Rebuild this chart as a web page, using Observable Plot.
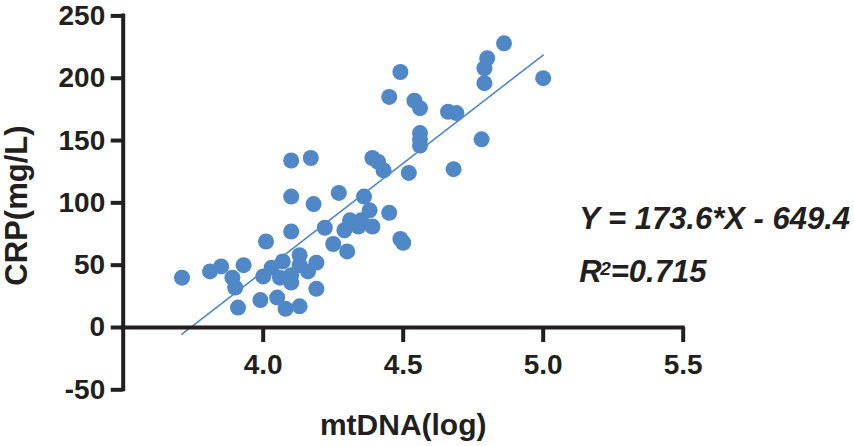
<!DOCTYPE html>
<html>
<head>
<meta charset="utf-8">
<script src="https://cdn.jsdelivr.net/npm/d3@7"></script>
<script src="https://cdn.jsdelivr.net/npm/@observablehq/plot@0.6"></script>
<style>
  html, body { margin: 0; padding: 0; background: #fff; }
  #chart svg { display: block; }
</style>
</head>
<body>
<div id="chart"></div>
<script>
// mtDNA (log) values
const mtDNA = [
  3.71, 3.81, 3.85, 3.93, 3.89, 3.90, 3.91, 3.99, 4.05, 4.08,
  4.13, 4.19, 4.00, 4.03, 4.07, 4.06, 4.10, 4.13, 4.13, 4.19,
  4.16, 4.10, 4.01, 4.10, 4.10, 4.18, 4.10, 4.17, 4.22, 4.25,
  4.30, 4.29, 4.31, 4.35, 4.34, 4.39, 4.27, 4.36, 4.38, 4.45,
  4.49, 4.50, 4.39, 4.41, 4.43, 4.52, 4.45, 4.49, 4.54, 4.56,
  4.66, 4.69, 4.56, 4.56, 4.56, 4.68, 4.78, 4.79, 4.79, 4.80,
  4.86, 5.00
];
// CRP (mg/L) values
const crp = [
  40, 45, 49, 50, 40, 32, 16, 22, 24, 15,
  17, 31, 41, 48, 53, 40, 36, 58, 50, 52,
  45, 42, 69, 77, 105, 99, 134, 136, 80, 67,
  61, 78, 86, 86, 81, 81, 108, 105, 94, 92,
  71, 68, 136, 133, 126, 124, 185, 205, 182, 176,
  173, 172, 156, 151, 146, 127, 151, 196, 208, 216,
  228, 200
];
const slope = 173.6;
const intercept = -649.4;
const r2 = "0.715";
const xTicks = [4.0, 4.5, 5.0, 5.5];
const yTicks = [-50, 0, 50, 100, 150, 200, 250];
const xLabel = "mtDNA(log)";
const yLabel = "CRP(mg/L)";

const points = mtDNA.map((x, i) => ({x, y: crp[i]}));
const [xmin, xmax] = d3.extent(mtDNA);
const fit = [xmin, xmax].map(x => ({x, y: slope * x + intercept}));
const eqText = `Y = ${slope}*X - ${Math.abs(intercept)}`;

const ink = "#231f20";
const blue = "#4f87c7";
const font = "'Liberation Sans', Arial, Helvetica, sans-serif";
const annot = {frameAnchor: "top-right", textAnchor: "start", lineAnchor: "middle", fill: ink, fontWeight: "bold", fontStyle: "italic"};

const chart = Plot.plot({
  width: 854,
  height: 446,
  marginLeft: 122.7,
  marginRight: 171.3,
  marginTop: 15.4,
  marginBottom: 56.7,
  style: {fontFamily: font, fontSize: "28px", fontWeight: "bold", color: ink, background: "#fff", overflow: "visible"},
  x: {domain: [3.5, 5.5], axis: null},
  y: {domain: [-50, 250], axis: null},
  marks: [
    Plot.dot(points, {x: "x", y: "y", r: 8, fill: blue, stroke: "none"}),
    Plot.line(fit, {x: "x", y: "y", stroke: blue, strokeWidth: 1.6}),
    // y axis
    Plot.ruleX([3.5], {y1: () => -50, y2: () => 250, stroke: ink, strokeWidth: 4, strokeLinecap: "square"}),
    Plot.axisY({ticks: yTicks, tickSize: 12, tickPadding: 6, strokeWidth: 4, tickFormat: d => String(d), label: null, fill: ink, stroke: ink, fontSize: 28}),
    // x axis drawn at y = 0
    Plot.ruleY([0], {x1: () => 3.5, x2: () => 5.5, stroke: ink, strokeWidth: 4, strokeLinecap: "square"}),
    Plot.ruleX(xTicks, {x: d => d, y1: () => 0, y2: () => 0, insetBottom: -15, stroke: ink, strokeWidth: 4}),
    Plot.text(xTicks, {x: d => d, y: () => 0, text: d => d.toFixed(1), lineAnchor: "middle", dy: 38, fill: ink, fontSize: 28, fontWeight: "bold"}),
    // axis titles
    Plot.text([xLabel], {frameAnchor: "bottom", lineAnchor: "middle", textAnchor: "middle", text: d => d, dy: 36, fill: ink, fontSize: 30, fontWeight: "bold"}),
    Plot.text([yLabel], {frameAnchor: "left", lineAnchor: "middle", textAnchor: "middle", text: d => d, rotate: -90, dx: -106.5, dy: 2.7, fill: ink, fontSize: 31, fontWeight: "bold"}),
    // regression annotation
    Plot.text([eqText], {...annot, text: d => d, dx: -104, dy: 203.6, fontSize: 31}),
    Plot.text(["R"], {...annot, text: d => d, dx: -104, dy: 256.4, fontSize: 31}),
    Plot.text(["2"], {...annot, text: d => d, dx: -83, dy: 253.5, fontSize: 19}),
    Plot.text([`=${r2}`], {...annot, text: d => d, dx: -72.5, dy: 256.4, fontSize: 31})
  ]
});
document.getElementById("chart").appendChild(chart);
</script>
</body>
</html>
